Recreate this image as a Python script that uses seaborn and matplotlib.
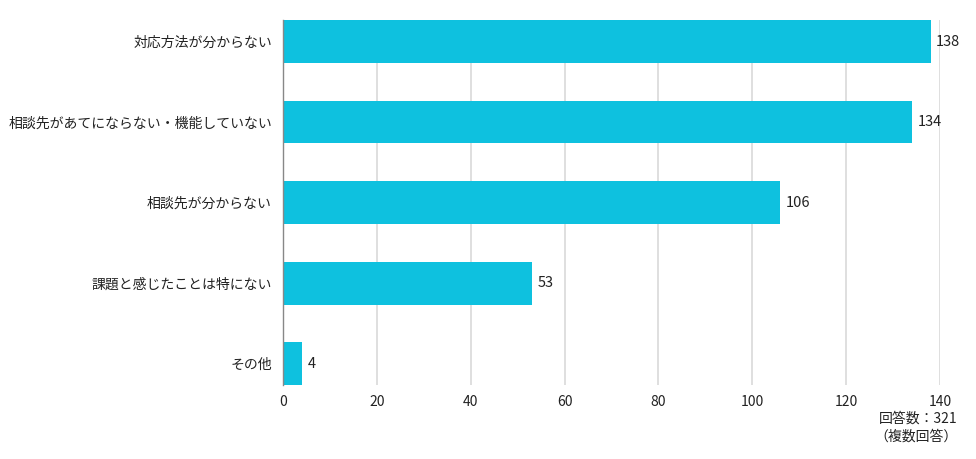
import matplotlib
matplotlib.use("Agg")
import matplotlib.pyplot as plt
import seaborn as sns
import pandas as pd

# データ
categories = ["対応方法が分からない", "相談先があてにならない・機能していない",
              "相談先が分からない", "課題と感じたことは特にない", "その他"]
values = [138, 134, 106, 53, 4]
xticks = [0, 20, 40, 60, 80, 100, 120, 140]

sns.set_style("white")
plt.rcParams['font.family'] = ['Noto Sans CJK JP', 'DejaVu Sans']

df = pd.DataFrame({"category": categories, "value": values})

fig = plt.figure(figsize=(9.76, 4.59), dpi=100)
ax = fig.add_axes([0.29, 0.161, 0.673, 0.795])

bar_h = 0.53
sns.barplot(data=df, x="value", y="category", color="#0EC1DF", saturation=1,
            width=bar_h, ax=ax, zorder=3, linewidth=0)

# 数値ラベル
for i, v in enumerate(values):
    ax.text(v + 1.2, i, str(v), va="center", ha="left", fontsize=10.5, color="#222222")

ax.set_xlim(0, 140)
ax.set_ylim(len(categories) - 1 + bar_h / 2, -bar_h / 2)
ax.set_xticks(xticks)
ax.xaxis.grid(True, color="#d9d9d9", linewidth=1.2, zorder=0)
ax.yaxis.grid(False)
ax.set_xlabel("")
ax.set_ylabel("")
ax.tick_params(axis="both", length=0, labelsize=10, colors="#222222")
ax.tick_params(axis="y", pad=8)
ax.tick_params(axis="x", pad=7)
for s in ["top", "right", "bottom"]:
    ax.spines[s].set_visible(False)
ax.spines["left"].set_color("#888888")
ax.spines["left"].set_linewidth(1)
ax.spines["left"].set_zorder(5)

fig.text(0.981, 0.068, "回答数：321\n（複数回答）", ha="right", va="center",
         fontsize=10, color="#222222", linespacing=1.4)

fig.savefig("out.png", dpi=100)
